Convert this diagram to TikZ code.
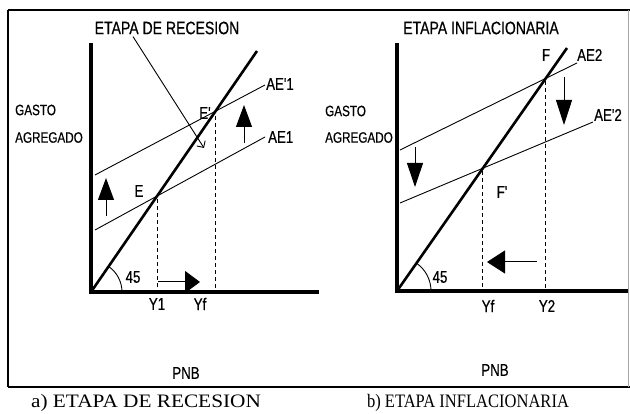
\documentclass[tikz,border=0pt]{standalone}
\usepackage{fontspec}
\setmainfont{Liberation Serif}
\newfontfamily\cnd[FakeStretch=0.78,FakeBold=0.6]{Liberation Sans}
\usetikzlibrary{arrows.meta}
\tikzset{
  axisline/.style={line width=3.6pt, line join=miter},
  diagline/.style={line width=2.6pt},
  aeline/.style={line width=0.9pt},
  guide/.style={line width=0.9pt, dash pattern=on 4pt off 3pt},
  shaft/.style={line width=1pt},
  lbl/.style={font=\cnd\fontsize{17}{17}\selectfont, inner sep=0pt},
  lbltwo/.style={font=\cnd\fontsize{15}{15}\selectfont, inner sep=0pt, anchor=west},
  ttl/.style={font=\cnd\fontsize{18}{18}\selectfont, inner sep=0pt},
  captxt/.style={font=\fontsize{19}{19}\selectfont, inner sep=0pt}
}
\begin{document}
\begin{tikzpicture}[x=1pt,y=-1pt]
\useasboundingbox (0,0) rectangle (630,414);
% frame
\draw[line width=1.6pt] (8,10) -- (630,10);
\draw[line width=1.6pt] (8,387) -- (630,387);
\draw[line width=1.3pt] (8,10) -- (8,387);
\draw[line width=0.4pt, black!35] (628,10) -- (628,387);

% ---------- left panel ----------
\coordinate (O1) at (91,292);
\coordinate (Y1top) at (91,43);
\coordinate (X1end) at (319,292);
\draw[axisline] (Y1top) -- (O1) -- (X1end);
\coordinate (D1) at (257,51);
\draw[diagline] (O1) -- (D1);
\coordinate (L1a) at (95,230); \coordinate (L1b) at (265,137);
\coordinate (U1a) at (95,175); \coordinate (U1b) at (265,85);
\draw[aeline] (L1a) -- (L1b);
\draw[aeline] (U1a) -- (U1b);
\coordinate (E) at (intersection of O1--D1 and L1a--L1b);
\coordinate (Ep) at (intersection of O1--D1 and U1a--U1b);
\draw[guide] ([yshift=-3pt]E) -- (E |- O1);
\draw[guide] ([yshift=-5pt]Ep) -- (Ep |- O1);
\node[lbl] (Elbl) at (139,191) {E};
\node[lbl] (Eplbl) at (205,113) {E'};
\node[lbl, anchor=west] (aeup1) at (266,84) {AE'1};
\node[lbl, anchor=west] (aelo1) at (268,137) {AE1};
\draw[aeline] ([shift={(31pt,0pt)}]O1) arc[start angle=0, end angle=55, radius=31pt];
\node[lbl] (ang1) at (133,277) {45};
\node[lbl] (y1) at (157,304) {Y1};
\node[lbl] (yf1) at (200,304) {Yf};
\node[lbl] (pnb1) at (186,373) {PNB};
\node[lbltwo] (g1) at (15,110) {GASTO};
\node[lbltwo] (ag1) at (15,137.5) {AGREGADO};
\node[ttl] (t1) at (167,28) {ETAPA DE RECESION};
\coordinate (p1) at (204,148);
\draw[aeline, -{Straight Barb[angle=90:7pt]}] ([xshift=-34pt,yshift=-2pt]t1.south) -- (p1);
% arrows
\coordinate (ua1s) at (106,216); \coordinate (ua1e) at (106,178);
\draw[shaft, -{Triangle[length=22pt,width=16pt]}] (ua1s) -- (ua1e);
\coordinate (ua2s) at (244,143); \coordinate (ua2e) at (244,105);
\draw[shaft, -{Triangle[length=22pt,width=16pt]}] (ua2s) -- (ua2e);
\coordinate (ra1s) at (158,282); \coordinate (ra1e) at (200,282);
\draw[shaft, -{Triangle[length=15pt,width=22pt]}] (ra1s) -- (ra1e);

% ---------- right panel ----------
\coordinate (O2) at (397,291);
\coordinate (Y2top) at (397,43);
\coordinate (X2end) at (628,291);
\draw[axisline] (Y2top) -- (O2) -- (X2end);
\coordinate (D2) at (567,48);
\draw[diagline] (O2) -- (D2);
\coordinate (U2a) at (400,150); \coordinate (U2b) at (577,63);
\coordinate (L2a) at (400,203); \coordinate (L2b) at (593,122);
\draw[aeline] (U2a) -- (U2b);
\draw[aeline] (L2a) -- (L2b);
\coordinate (F) at (intersection of O2--D2 and U2a--U2b);
\coordinate (Fp) at (intersection of O2--D2 and L2a--L2b);
\draw[guide] ([yshift=-3pt]F) -- (F |- O2);
\draw[guide] ([yshift=-3pt]Fp) -- (Fp |- O2);
\node[lbl] (Flbl) at (546,55) {F};
\node[lbl] (Fplbl) at (502,192) {F'};
\node[lbl, anchor=west] (aeup2) at (577,55) {AE2};
\node[lbl, anchor=west] (aelo2) at (594,115) {AE'2};
\draw[aeline] ([shift={(34pt,0pt)}]O2) arc[start angle=0, end angle=55, radius=34pt];
\node[lbl] (ang2) at (440,277) {45};
\node[lbl] (yf2) at (488,306) {Yf};
\node[lbl] (y2) at (547,306) {Y2};
\node[lbl] (pnb2) at (495,370) {PNB};
\node[lbltwo] (g2) at (325,111) {GASTO};
\node[lbltwo] (ag2) at (325,137.5) {AGREGADO};
\node[ttl] (t2) at (481,28) {ETAPA INFLACIONARIA};
% arrows
\coordinate (da1s) at (415,147); \coordinate (da1e) at (415,187);
\draw[shaft, -{Triangle[length=24pt,width=16pt]}] (da1s) -- (da1e);
\coordinate (da2s) at (564,77); \coordinate (da2e) at (564,125);
\draw[shaft, -{Triangle[length=25pt,width=16pt]}] (da2s) -- (da2e);
\coordinate (la1s) at (537,262); \coordinate (la1e) at (487,262);
\draw[shaft, -{Triangle[length=18pt,width=23pt]}] (la1s) -- (la1e);

% captions
\node[captxt] (c1) at (146,403) {\scalebox{1.12}[1]{a) ETAPA DE RECESION}};
\node[captxt] (c2) at (468,403) {\scalebox{0.87}[1]{b) ETAPA INFLACIONARIA}};
\end{tikzpicture}
\end{document}
